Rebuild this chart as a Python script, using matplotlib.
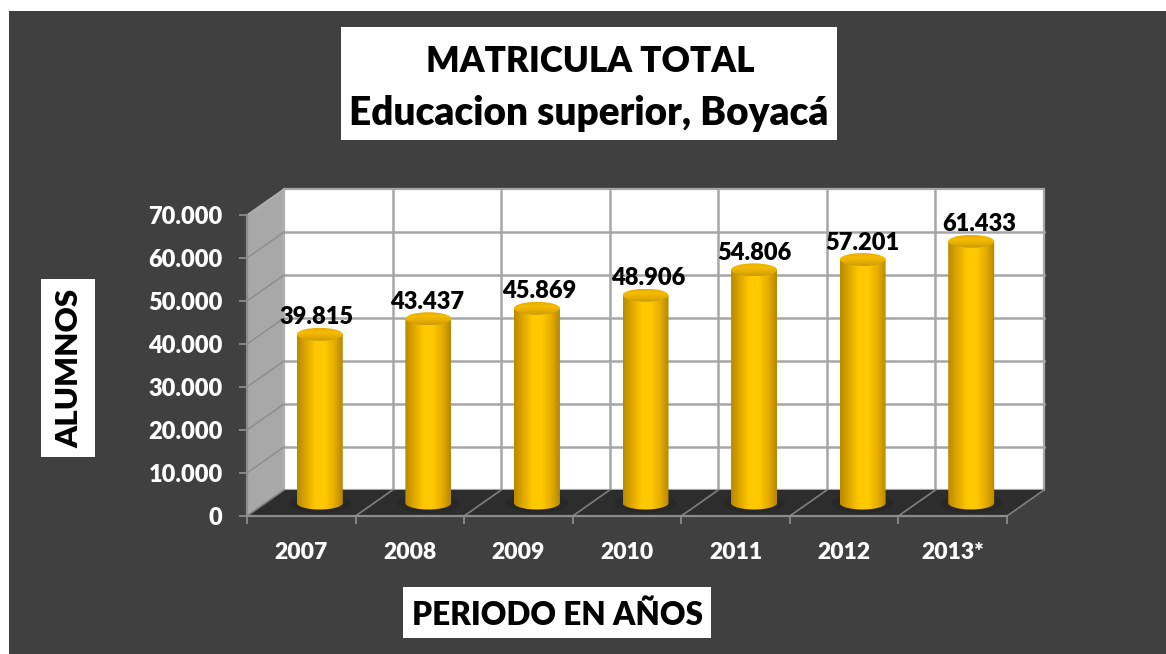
import numpy as np
import matplotlib
matplotlib.use('Agg')
import matplotlib.pyplot as plt
from matplotlib.colors import LinearSegmentedColormap
from matplotlib.patches import Polygon, Rectangle, Ellipse, PathPatch
from matplotlib.path import Path
from matplotlib.ticker import FuncFormatter

# data
years = ['2007', '2008', '2009', '2010', '2011', '2012', '2013*']
alumnos = [39815, 43437, 45869, 48906, 54806, 57201, 61433]
y_ticks = [0, 10000, 20000, 30000, 40000, 50000, 60000, 70000]

W, H = 1166, 654
plt.rcParams['font.family'] = ['Lato', 'DejaVu Sans']
plt.rcParams['font.weight'] = 'heavy'
plt.rcParams['axes.labelweight'] = 'heavy'

BG = '#404040'
FLOOR = '#2d2d2d'
GRID = '#a6a6a6'

fig = plt.figure(figsize=(W / 100, H / 100), dpi=100, facecolor='white')


def fig_box(x0, y0, x1, y1, color):
    # box given in picture pixels, y downwards
    r = Rectangle((x0 / W, 1 - y1 / H), (x1 - x0) / W, (y1 - y0) / H,
                  transform=fig.transFigure, facecolor=color, edgecolor='none', zorder=-5)
    fig.add_artist(r)


def fig_text(x, y, s, **kw):
    fig.text(x / W, 1 - y / H, s, ha='center', va='center', fontweight='heavy', color='black', **kw)


fig_box(9, 11, W, H, BG)

# axes = front frame of the 3d box
ax = fig.add_axes([247 / W, 1 - 516 / H, 760 / W, 301 / H])
ax.patch.set_alpha(0)
n = len(years)
ax.set_xlim(0, n)
ax.set_ylim(0, 70000)

# depth offset of the back wall, in data units
px_x = n / 760
px_y = 70000 / 301
dx = 37 * px_x
dy = 26 * px_y

# back wall, side wall, floor
ax.add_patch(Polygon([(dx, dy), (n + dx, dy), (n + dx, 70000 + dy), (dx, 70000 + dy)],
                     facecolor='white', edgecolor=GRID, lw=1.6, clip_on=False, zorder=1))
ax.add_patch(Polygon([(0, 0), (dx, dy), (dx, 70000 + dy), (0, 70000)],
                     facecolor='#a8a8a8', edgecolor='#b5b5b5', lw=1, clip_on=False, zorder=1))
ax.add_patch(Polygon([(0, 0), (n, 0), (n + dx, dy), (dx, dy)],
                     facecolor=FLOOR, edgecolor='none', clip_on=False, zorder=2))

# gridlines
for v in y_ticks[1:-1]:
    ax.plot([dx, n + dx], [v + dy, v + dy], color=GRID, lw=1.8, clip_on=False, zorder=1.5)
    ax.plot([0, dx], [v, v + dy], color='#8c8c8c', lw=1, clip_on=False, zorder=1.5)
for i in range(1, n):
    ax.plot([i + dx, i + dx], [dy, 70000 + dy], color=GRID, lw=1.8, clip_on=False, zorder=1.5)
for i in range(0, n + 1):
    ax.plot([i, i + dx], [0, dy], color='#7f7f7f', lw=1.2, clip_on=False, zorder=2.5)

# cylinders
bar_w = 46 * px_x
cap_h = 13 * px_y
body_cmap = LinearSegmentedColormap.from_list('body', ['#b88a00', '#e0a800', '#ffc800', '#ffca00', '#e8ae00', '#b58800'])
cap_cmap = LinearSegmentedColormap.from_list('cap', ['#e8ae00', '#f4bc00', '#e6ac00', '#c89a10'])
grad = np.linspace(0, 1, 200).reshape(1, -1)

# the labels do not sit exactly over their bars, shift in px
label_shift = [-3, -1, 2, 3, 0, 0, 8]

for i, val in enumerate(alumnos):
    cx = i + 0.5 + dx / 2
    base = dy / 2
    top = base + val - 2.5 * px_y
    # shadow on the floor
    ax.add_patch(Ellipse((cx, base), bar_w * 1.35, cap_h * 1.5, facecolor='#1f1f1f', edgecolor='none',
                         alpha=0.35, clip_on=False, zorder=3))
    # body outline: top straight, bottom half ellipse
    t = np.linspace(np.pi, 2 * np.pi, 40)
    xs = cx + bar_w / 2 * np.cos(t)
    ys = base + cap_h / 2 * np.sin(t)
    verts = [(cx - bar_w / 2, top)] + list(zip(xs, ys)) + [(cx + bar_w / 2, top), (cx - bar_w / 2, top)]
    codes = [Path.MOVETO] + [Path.LINETO] * (len(verts) - 2) + [Path.CLOSEPOLY]
    clip = PathPatch(Path(verts, codes), facecolor='none', edgecolor='none', transform=ax.transData)
    ax.add_patch(clip)
    im = ax.imshow(grad, extent=[cx - bar_w / 2, cx + bar_w / 2, 0, top], aspect='auto', cmap=body_cmap,
                   zorder=4, clip_on=True)
    im.set_clip_path(clip)
    # top cap
    cap = Ellipse((cx, top), bar_w, cap_h, facecolor='none', edgecolor='none', transform=ax.transData)
    ax.add_patch(cap)
    im2 = ax.imshow(grad.T, extent=[cx - bar_w / 2, cx + bar_w / 2, top - cap_h / 2, top + cap_h / 2],
                    aspect='auto', cmap=cap_cmap, zorder=5)
    im2.set_clip_path(cap)
    ax.text(cx + label_shift[i] * px_x, top + cap_h / 2 - 0.5 * px_y, f'{val:,}'.replace(',', '.'), ha='center',
            va='bottom', fontsize=17, fontweight='heavy', color='black', zorder=6)

ax.set_xlim(0, n)
ax.set_ylim(0, 70000)

# axes ticks
ax.set_yticks(y_ticks)
ax.yaxis.set_major_formatter(FuncFormatter(lambda v, pos: f'{int(v):,}'.replace(',', '.')))
ax.set_xticks(range(n + 1))
ax.set_xticklabels([])
ax.set_xticks(np.arange(n) + 0.5, minor=True)
ax.set_xticklabels(years, minor=True)
ax.tick_params(axis='y', length=5.5, width=1.3, color='#8c8c8c', labelcolor='white', labelsize=17, pad=12)
ax.tick_params(axis='x', which='major', length=5.5, width=1.3, color='#8c8c8c')
ax.tick_params(axis='x', which='minor', length=0, labelcolor='white', labelsize=16.5, pad=19)
for s in ['top', 'right']:
    ax.spines[s].set_visible(False)
for s in ['left', 'bottom']:
    ax.spines[s].set_color('#8c8c8c')
    ax.spines[s].set_linewidth(1.6)
    ax.spines[s].set_zorder(2.6)

# title and axis label boxes
fig_box(341, 27, 837, 140, 'white')
fig_text(590, 61, 'MATRICULA TOTAL', fontsize=25.2)
fig_text(589, 113, 'Educacion superior, Boyacá', fontsize=27.9)
fig_box(41, 279, 95, 457, 'white')
fig_text(69, 368, 'ALUMNOS', fontsize=22.5, rotation=90)
fig_box(403, 587, 711, 638, 'white')
fig_text(557, 615, 'PERIODO EN AÑOS', fontsize=22.7)

fig.savefig('out.png', dpi=100, facecolor='white')
